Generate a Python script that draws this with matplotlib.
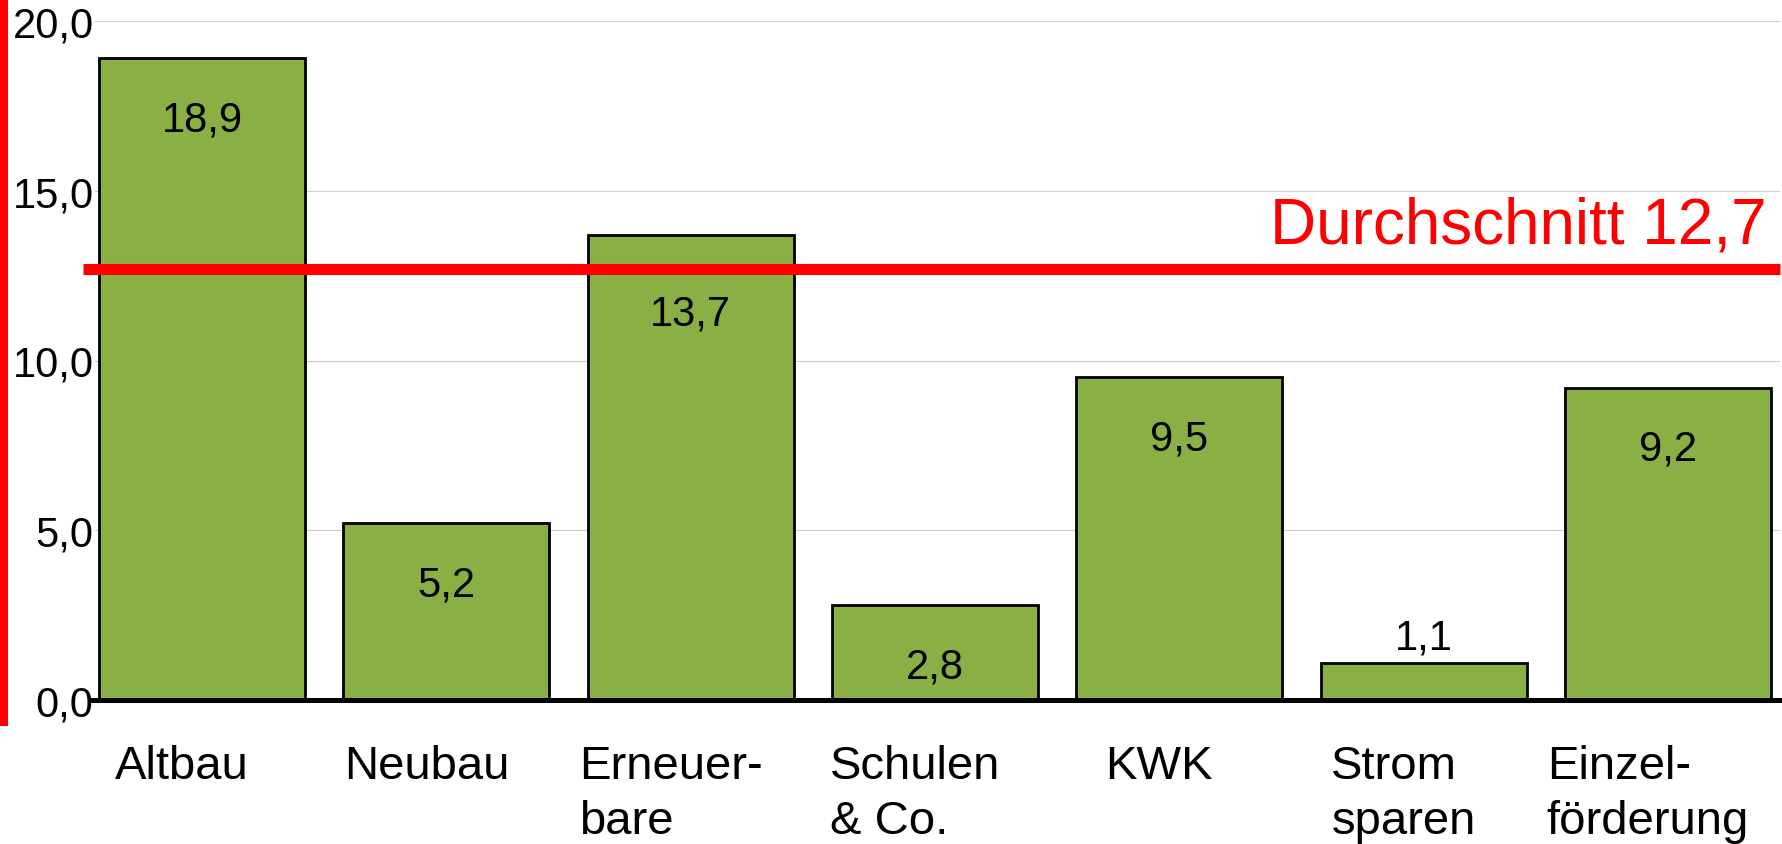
import matplotlib
matplotlib.use("Agg")
import matplotlib.pyplot as plt
import matplotlib.transforms as mtransforms
from matplotlib.patches import Rectangle
import numpy as np

# data
categories = ["Altbau", "Neubau", "Erneuer-\nbare", "Schulen\n& Co.", "KWK",
              "Strom\nsparen", "Einzel-\nförderung"]
values = [18.9, 5.2, 13.7, 2.8, 9.5, 1.1, 9.2]
average = 12.7
yticks = [0, 5, 10, 15, 20]

plt.rcParams['font.family'] = ['Liberation Sans', 'DejaVu Sans']

def de(v):
    return f"{v:.1f}".replace(".", ",")

fig = plt.figure(figsize=(17.82, 8.45), dpi=100)
ax = fig.add_axes([95 / 1782, 144 / 845, 1685 / 1782, 679 / 845])

x = np.arange(len(categories))
bars = ax.bar(x, values, width=0.843, color='#8aaf44', edgecolor='black',
              linewidth=2, zorder=2)

ax.set_xlim(-0.438, 6.459)
ax.set_ylim(0, 20)

# grid
ax.set_yticks(yticks)
ax.set_yticklabels([de(v) for v in yticks], fontsize=30)
ax.yaxis.grid(True, color='#cccccc', linewidth=0.8, zorder=0)
ax.set_axisbelow(True)
ax.tick_params(axis='y', length=0, pad=1)

ax.set_xticks(x)
ax.set_xticklabels(categories, fontsize=34, linespacing=1.3)
ax.tick_params(axis='x', length=0, pad=32)
shift = mtransforms.ScaledTranslation(-20 / 100, 0, fig.dpi_scale_trans)
for lab in ax.get_xticklabels():
    lab.set_multialignment('left')
    lab.set_transform(lab.get_transform() + shift)

for s in ['top', 'right', 'left']:
    ax.spines[s].set_visible(False)
ax.spines['bottom'].set_linewidth(3.6)
ax.spines['bottom'].set_bounds(-0.46, 6.459)
ax.spines['bottom'].set_zorder(3)

# value labels (small bars: above, bars just over the average: below the line)
for b, v in zip(bars, values):
    cx = b.get_x() + b.get_width() / 2
    y, off = v, -44
    if v < 2:
        off = 18
    elif average < v < average + 2.5:
        y, off = average, -32
    ax.annotate(de(v), (cx, y), xytext=(0, off), textcoords='offset points',
                ha='center', va='center', fontsize=30, zorder=4)

# average line
ax.axhline(average, xmin=-0.007, xmax=1, color='red', linewidth=8,
           solid_capstyle='butt', clip_on=False, zorder=5)
ax.annotate(f"Durchschnitt {de(average)}", (0.992, average),
            xycoords=('axes fraction', 'data'), xytext=(0, 19),
            textcoords='offset points', ha='right', va='baseline',
            fontsize=46, color='red')

# red bar at the left edge
fig.add_artist(Rectangle((0, 118 / 845), 8 / 1782, 1 - 118 / 845,
                         transform=fig.transFigure, color='red', lw=0))

fig.savefig("out.png", dpi=100)
